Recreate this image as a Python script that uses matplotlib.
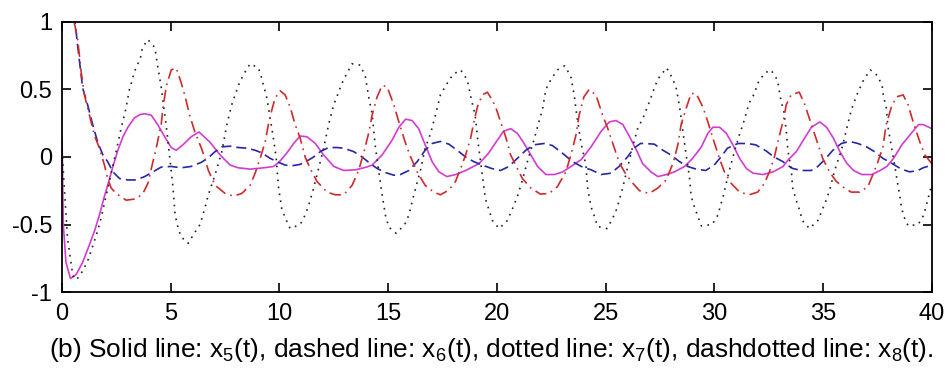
import matplotlib.pyplot as plt

plt.rcParams['font.family'] = ['Liberation Sans', 'DejaVu Sans']
plt.rcParams['mathtext.fontset'] = 'custom'
plt.rcParams['mathtext.rm'] = 'Liberation Sans'
plt.rcParams['mathtext.it'] = 'Liberation Sans'

# x5(t) -- solid magenta
t5 = [0.0, 0.06, 0.18, 0.39, 0.65, 0.95, 1.26, 1.49, 1.72, 1.95, 2.1, 2.34, 2.57, 2.8,
      3.03, 3.33, 3.6, 3.8, 4.1, 4.4, 4.72, 5.02, 5.25, 5.56, 5.94, 6.3, 6.8, 7.27, 7.73,
      8.1, 8.65, 9.28, 9.73, 10.0, 10.34, 10.65, 10.95, 11.26, 11.65, 12.03, 12.5, 12.95,
      13.5, 14.0, 14.26, 14.72, 15.18, 15.49, 15.8, 16.1, 16.4, 16.7, 17.02, 17.33, 17.7,
      18.1, 18.56, 19.17, 19.6, 20.0, 20.3, 20.63, 20.94, 21.25, 21.56, 21.87, 22.25,
      22.64, 23.03, 23.41, 23.87, 24.33, 24.79, 25.17, 25.48, 25.79, 26.1, 26.45, 26.7,
      27.08, 27.4, 27.8, 28.17, 28.63, 29.0, 29.4, 29.7, 29.93, 30.24, 30.55, 30.85,
      31.16, 31.47, 31.78, 32.24, 32.7, 33.16, 33.4, 33.77, 34.15, 34.46, 34.85, 35.16,
      35.47, 35.77, 36.08, 36.4, 36.78, 37.24, 37.62, 37.93, 38.24, 38.62, 39.0, 39.39,
      39.6, 40.0]
x5 = [0.14, -0.5, -0.78, -0.9, -0.87, -0.78, -0.65, -0.55, -0.43, -0.29, -0.21, -0.07,
      0.05, 0.15, 0.22, 0.29, 0.315, 0.32, 0.31, 0.24, 0.15, 0.07, 0.05, 0.09, 0.15, 0.185,
      0.11, 0.015, -0.06, -0.08, -0.09, -0.08, -0.07, -0.035, 0.03, 0.1, 0.155, 0.15, 0.1,
      0.015, -0.07, -0.1, -0.095, -0.075, -0.06, 0.015, 0.125, 0.22, 0.28, 0.27, 0.21,
      0.09, -0.035, -0.11, -0.145, -0.13, -0.1, -0.05, 0.025, 0.12, 0.19, 0.21, 0.175,
      0.1, 0.015, -0.07, -0.13, -0.13, -0.11, -0.07, -0.02, 0.075, 0.19, 0.26, 0.27, 0.24,
      0.15, 0.04, -0.05, -0.11, -0.145, -0.13, -0.11, -0.07, -0.01, 0.075, 0.175, 0.22,
      0.22, 0.175, 0.09, -0.01, -0.085, -0.12, -0.13, -0.11, -0.07, -0.02, 0.04, 0.14,
      0.22, 0.26, 0.22, 0.14, 0.04, -0.045, -0.1, -0.13, -0.13, -0.1, -0.07, -0.01, 0.09,
      0.165, 0.24, 0.24, 0.21]

# x6(t) -- dashed blue
t6 = [0.4, 0.6, 0.72, 0.95, 1.18, 1.41, 1.64, 1.88, 2.1, 2.34, 2.65, 3.03, 3.4, 3.8, 4.18,
      4.56, 5.02, 5.48, 5.94, 6.4, 6.7, 7.04, 7.35, 7.73, 8.11, 8.5, 8.88, 9.19, 9.57,
      9.96, 10.26, 10.57, 10.95, 11.26, 11.57, 11.88, 12.26, 12.65, 12.95, 13.41, 13.8,
      14.18, 14.49, 14.87, 15.26, 15.56, 15.95, 16.33, 16.7, 17.02, 17.4, 17.79, 18.17,
      18.56, 18.94, 19.33, 19.75, 20.17, 20.55, 20.94, 21.33, 21.7, 22.17, 22.55, 23.0,
      23.48, 23.94, 24.33, 24.79, 25.24, 25.62, 26.0, 26.3, 26.6, 26.79, 27.24, 27.63,
      28.0, 28.4, 28.77, 29.16, 29.6, 29.99, 30.3, 30.6, 31.08, 31.5, 31.9, 32.38, 32.74,
      33.16, 33.3, 33.6, 34.0, 34.45, 34.76, 35.07, 35.45, 35.84, 36.22, 36.6, 37.0,
      37.36, 37.75, 38.14, 38.6, 38.98, 39.36, 39.6, 40.0]
x6 = [1.6, 1.0, 0.82, 0.51, 0.385, 0.24, 0.11, 0.015, -0.035, -0.11, -0.16, -0.17, -0.17,
      -0.145, -0.11, -0.075, -0.07, -0.08, -0.07, -0.04, -0.01, 0.04, 0.075, 0.08, 0.07,
      0.065, 0.05, 0.03, -0.01, -0.04, -0.06, -0.065, -0.055, -0.03, 0.0, 0.04, 0.07, 0.07,
      0.065, 0.04, 0.0, -0.05, -0.085, -0.115, -0.135, -0.13, -0.1, -0.035, 0.05, 0.1,
      0.115, 0.095, 0.05, 0.0, -0.035, -0.06, -0.085, -0.1, -0.07, -0.01, 0.05, 0.09, 0.1,
      0.085, 0.03, -0.035, -0.075, -0.095, -0.13, -0.12, -0.07, 0.0, 0.065, 0.1, 0.1,
      0.095, 0.05, 0.015, -0.035, -0.07, -0.09, -0.1, -0.06, 0.0, 0.065, 0.1, 0.1, 0.09,
      0.045, 0.0, -0.035, -0.055, -0.085, -0.1, -0.1, -0.07, -0.02, 0.05, 0.1, 0.115, 0.1,
      0.075, 0.04, -0.01, -0.045, -0.09, -0.11, -0.1, -0.08, -0.06]

# x7(t) -- dotted black
t7 = [0.0, 0.25, 0.5, 0.66, 0.97, 1.2, 1.35, 1.65, 1.8, 2.15, 2.5, 2.7, 2.9, 3.1, 3.35, 3.6,
      3.7, 3.95, 4.27, 4.4, 4.55, 4.8, 5.1, 5.2, 5.33, 5.47, 5.8, 6.1, 6.35, 6.6, 6.73,
      7.04, 7.35, 7.58, 7.8, 8.11, 8.34, 8.65, 9.03, 9.19, 9.42, 9.57, 9.72, 9.85, 9.96,
      10.1, 10.26, 10.49, 10.95, 11.18, 11.34, 11.57, 11.8, 12.03, 12.26, 12.49, 12.72,
      12.87, 13.1, 13.34, 13.72, 13.95, 14.1, 14.26, 14.41, 14.56, 14.72, 14.87, 15.03,
      15.37, 15.76, 15.95, 16.18, 16.48, 16.7, 16.95, 17.17, 17.4, 17.71, 17.97, 18.33,
      18.64, 18.83, 19.0, 19.13, 19.33, 19.47, 19.63, 19.79, 20.1, 20.48, 20.7, 20.97,
      21.17, 21.4, 21.7, 21.93, 22.09, 22.25, 22.47, 22.78, 23.12, 23.4, 23.55, 23.67,
      23.86, 24.09, 24.17, 24.33, 24.48, 24.63, 25.06, 25.32, 25.52, 25.78, 26.0, 26.24,
      26.47, 26.72, 26.99, 27.26, 27.41, 27.8, 28.03, 28.23, 28.32, 28.4, 28.55, 28.7,
      28.85, 28.93, 29.08, 29.24, 29.4, 29.9, 30.16, 30.42, 30.67, 30.92, 31.15, 31.33,
      31.6, 31.84, 31.99, 32.3, 32.6, 32.9, 33.06, 33.2, 33.3, 33.38, 33.53, 33.6, 33.76,
      33.91, 34.04, 34.37, 34.76, 34.96, 35.14, 35.3, 35.53, 35.84, 36.07, 36.3, 36.55,
      36.86, 37.17, 37.52, 37.72, 37.78, 37.9, 37.98, 38.14, 38.3, 38.45, 38.53, 38.6,
      38.71, 38.91, 39.37, 39.63, 39.75, 40.0]
x7 = [0.05, -0.6, -0.88, -0.91, -0.84, -0.76, -0.69, -0.54, -0.45, -0.2, 0.05, 0.2, 0.33,
      0.5, 0.64, 0.73, 0.81, 0.87, 0.81, 0.67, 0.53, 0.22, -0.22, -0.43, -0.52, -0.59,
      -0.64, -0.56, -0.5, -0.36, -0.28, -0.13, 0.04, 0.24, 0.385, 0.53, 0.61, 0.69, 0.66,
      0.58, 0.435, 0.29, 0.14, -0.01, -0.23, -0.38, -0.45, -0.53, -0.5, -0.43, -0.36,
      -0.23, -0.085, 0.065, 0.24, 0.385, 0.48, 0.545, 0.62, 0.69, 0.68, 0.595, 0.445,
      0.32, 0.075, -0.1, -0.28, -0.43, -0.52, -0.565, -0.5, -0.43, -0.28, -0.1, 0.065,
      0.175, 0.31, 0.46, 0.545, 0.61, 0.645, 0.57, 0.42, 0.31, 0.11, -0.135, -0.31, -0.39,
      -0.47, -0.53, -0.47, -0.39, -0.28, -0.17, -0.035, 0.125, 0.26, 0.35, 0.5, 0.57,
      0.645, 0.675, 0.595, 0.46, 0.31, 0.11, -0.06, -0.23, -0.37, -0.44, -0.515, -0.53,
      -0.455, -0.38, -0.23, -0.085, 0.075, 0.21, 0.29, 0.4, 0.52, 0.58, 0.66, 0.595, 0.52,
      0.445, 0.37, 0.19, 0.015, -0.145, -0.29, -0.37, -0.44, -0.51, -0.5, -0.43, -0.28,
      -0.11, 0.04, 0.165, 0.25, 0.4, 0.47, 0.545, 0.62, 0.645, 0.57, 0.42, 0.33, 0.2, 0.05,
      -0.085, -0.23, -0.32, -0.39, -0.47, -0.53, -0.47, -0.39, -0.32, -0.245, -0.1, 0.05,
      0.2, 0.35, 0.46, 0.57, 0.645, 0.6, 0.52, 0.445, 0.37, 0.225, 0.075, -0.07, -0.22,
      -0.29, -0.37, -0.44, -0.51, -0.5, -0.43, -0.355, -0.2]

# x8(t) -- dashdotted red
t8 = [0.4, 0.57, 0.72, 0.88, 1.03, 1.26, 1.49, 1.72, 1.95, 2.1, 2.26, 2.49, 2.95, 3.41,
      3.72, 3.95, 4.18, 4.33, 4.56, 4.64, 4.79, 5.02, 5.25, 5.48, 5.64, 5.87, 6.1, 6.41,
      6.55, 6.73, 7.04, 7.5, 7.89, 8.27, 8.65, 8.88, 9.11, 9.34, 9.49, 9.65, 9.8, 10.03,
      10.26, 10.49, 10.72, 10.95, 11.18, 11.41, 11.72, 12.18, 12.57, 12.95, 13.34, 13.64,
      13.87, 14.1, 14.26, 14.49, 14.72, 14.95, 15.26, 15.49, 15.8, 16.03, 16.33, 16.7,
      17.1, 17.4, 17.79, 18.1, 18.33, 18.56, 18.79, 18.94, 19.1, 19.33, 19.56, 19.79,
      19.94, 20.17, 20.4, 20.63, 20.86, 21.17, 21.56, 22.0, 22.4, 22.78, 23.17, 23.4,
      23.63, 23.78, 24.0, 24.24, 24.55, 24.86, 25.1, 25.4, 25.63, 25.94, 26.25, 26.56,
      27.0, 27.4, 27.78, 28.1, 28.32, 28.47, 28.7, 28.93, 29.16, 29.47, 29.7, 29.93,
      30.23, 30.46, 30.77, 31.16, 31.6, 31.99, 32.3, 32.53, 32.76, 32.9, 33.07, 33.2,
      33.3, 33.53, 33.9, 34.13, 34.36, 34.67, 34.98, 35.29, 35.6, 35.98, 36.29, 36.67,
      37.06, 37.29, 37.52, 37.75, 37.9, 38.14, 38.37, 38.68, 38.91, 39.14, 39.45, 39.68,
      40.0]
x8 = [1.6, 0.99, 0.87, 0.63, 0.46, 0.31, 0.16, 0.065, -0.06, -0.16, -0.23, -0.27, -0.32,
      -0.31, -0.27, -0.195, -0.035, 0.065, 0.24, 0.36, 0.52, 0.645, 0.66, 0.55, 0.46,
      0.31, 0.19, 0.065, 0.0, -0.1, -0.21, -0.27, -0.29, -0.27, -0.21, -0.12, -0.01, 0.11,
      0.24, 0.35, 0.435, 0.49, 0.46, 0.37, 0.24, 0.14, 0.0, -0.085, -0.18, -0.26, -0.28,
      -0.28, -0.21, -0.1, 0.03, 0.175, 0.31, 0.445, 0.53, 0.52, 0.385, 0.26, 0.1, 0.0,
      -0.11, -0.21, -0.26, -0.28, -0.245, -0.18, -0.085, 0.015, 0.14, 0.26, 0.37, 0.46,
      0.48, 0.42, 0.37, 0.26, 0.15, 0.015, -0.06, -0.16, -0.23, -0.275, -0.27, -0.22,
      -0.11, 0.015, 0.16, 0.31, 0.445, 0.5, 0.46, 0.31, 0.21, 0.065, -0.045, -0.13, -0.195,
      -0.25, -0.27, -0.23, -0.17, -0.045, 0.09, 0.24, 0.36, 0.47, 0.47, 0.37, 0.26, 0.14,
      -0.01, -0.11, -0.195, -0.26, -0.28, -0.26, -0.195, -0.11, 0.0, 0.1, 0.21, 0.29,
      0.385, 0.46, 0.48, 0.4, 0.29, 0.14, -0.01, -0.11, -0.18, -0.23, -0.26, -0.26, -0.22,
      -0.13, -0.035, 0.075, 0.24, 0.37, 0.445, 0.46, 0.385, 0.26, 0.11, 0.015, -0.05]

xticks = [0, 5, 10, 15, 20, 25, 30, 35, 40]
yticks = [-1, -0.5, 0, 0.5, 1]
ytick_labels = ['-1', '-0.5', '0', '0.5', '1']

caption = (r'(b) Solid line: x$_{\mathrm{5}}$(t), dashed line: x$_{\mathrm{6}}$(t), '
           r'dotted line: x$_{\mathrm{7}}$(t), dashdotted line: x$_{\mathrm{8}}$(t).')

fig = plt.figure(figsize=(9.47, 3.72), dpi=100)
ax = fig.add_axes([0.0655, 0.215, 0.9185, 0.726])

ax.plot(t5, x5, color='#d23cd2', linewidth=1.2, linestyle='-')
ax.plot(t6, x6, color='#2626a6', linewidth=1.2, dashes=(6, 3))
ax.plot(t7, x7, color='#222222', linewidth=1.2, dashes=(1, 3.2))
ax.plot(t8, x8, color='#d02a2a', linewidth=1.2, dashes=(7, 3, 1, 3))

ax.set_xlim(0, 40)
ax.set_ylim(-1, 1)
ax.set_xticks(xticks)
ax.set_xticklabels([str(v) for v in xticks])
ax.set_yticks(yticks)
ax.set_yticklabels(ytick_labels)
ax.tick_params(direction='in', length=6.5, width=1.2, labelsize=17,
               top=True, right=True)
ax.tick_params(axis='x', pad=8)
ax.tick_params(axis='y', pad=7)
for s in ax.spines.values():
    s.set_linewidth(1.3)

fig.text(0.519, 0.04, caption, ha='center', va='baseline', fontsize=18.9)

fig.savefig('out.png', dpi=100)
